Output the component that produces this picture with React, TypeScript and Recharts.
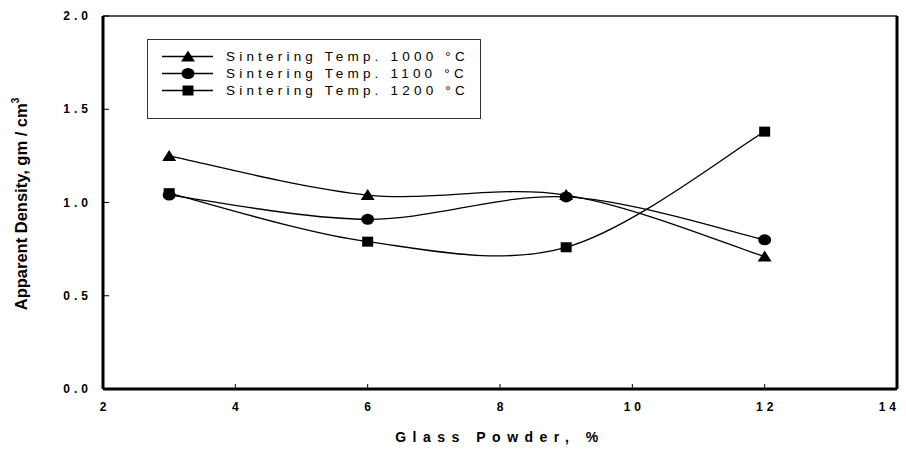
import { Legend, Line, LineChart, ReferenceLine, XAxis, YAxis } from "recharts";

const glassPowder = [3, 6, 9, 12];
const temp1000 = [1.25, 1.04, 1.04, 0.71];
const temp1100 = [1.04, 0.91, 1.03, 0.8];
const temp1200 = [1.05, 0.79, 0.76, 1.38];
const xTicks = [2, 4, 6, 8, 10, 12, 14];
const yTicks = [0, 0.5, 1, 1.5, 2];

const series = [
  { key: "t1000", name: "Sintering Temp. 1000 °C", shape: "triangle" },
  { key: "t1100", name: "Sintering Temp. 1100 °C", shape: "circle" },
  { key: "t1200", name: "Sintering Temp. 1200 °C", shape: "square" },
];

const data = glassPowder.map((x, i) => ({
  x,
  t1000: temp1000[i],
  t1100: temp1100[i],
  t1200: temp1200[i],
}));

const FONT = "Arial, 'Liberation Sans', sans-serif";

// Excel-style smoothing: uniform Catmull-Rom through the points.
const catmullRom = (ctx: any) => {
  let pts: number[][] = [];
  return {
    areaStart() {},
    areaEnd() {},
    lineStart() {
      pts = [];
    },
    point(x: number, y: number) {
      pts.push([+x, +y]);
    },
    lineEnd() {
      if (!pts.length) return;
      ctx.moveTo(pts[0][0], pts[0][1]);
      for (let i = 0; i < pts.length - 1; i++) {
        const p0 = pts[i - 1] || pts[i];
        const p1 = pts[i];
        const p2 = pts[i + 1];
        const p3 = pts[i + 2] || p2;
        ctx.bezierCurveTo(
          p1[0] + (p2[0] - p0[0]) / 6,
          p1[1] + (p2[1] - p0[1]) / 6,
          p2[0] - (p3[0] - p1[0]) / 6,
          p2[1] - (p3[1] - p1[1]) / 6,
          p2[0],
          p2[1],
        );
      }
    },
  };
};

function Marker({ shape, cx, cy }: { shape: string; cx: number; cy: number }) {
  if (shape === "triangle")
    return (
      <polygon
        points={`${cx},${cy - 6} ${cx - 7},${cy + 5} ${cx + 7},${cy + 5}`}
        fill="#000"
      />
    );
  if (shape === "circle") return <ellipse cx={cx} cy={cy} rx={6.5} ry={5.5} fill="#000" />;
  return <rect x={cx - 5.5} y={cy - 5} width={11} height={10} fill="#000" />;
}

const makeDot = (shape: string) => (props: any) => {
  const { cx, cy, index } = props;
  if (cx == null || cy == null) return <g key={index} />;
  return (
    <g key={index}>
      <Marker shape={shape} cx={cx} cy={cy} />
    </g>
  );
};

const XTick = (props: any) => {
  const { x, y, payload } = props;
  const last = payload.value === xTicks[xTicks.length - 1];
  return (
    <g>
      <line x1={x} y1={y} x2={x} y2={y - 5} stroke="#000" strokeWidth={1} />
      <text
        x={last ? x + 3 : x + 2}
        y={y + 22}
        textAnchor={last ? "end" : "middle"}
        fontSize={12}
        fontWeight="bold"
        letterSpacing={4}
        fontFamily={FONT}
        fill="#000"
      >
        {payload.value}
      </text>
    </g>
  );
};

const YTick = (props: any) => {
  const { x, y, payload } = props;
  return (
    <g>
      <line x1={x} y1={y} x2={x + 6} y2={y} stroke="#000" strokeWidth={1} />
      <text
        x={x - 11}
        y={y + 4}
        textAnchor="end"
        fontSize={12}
        fontWeight="bold"
        letterSpacing={4}
        fontFamily={FONT}
        fill="#000"
      >
        {Number(payload.value).toFixed(1)}
      </text>
    </g>
  );
};

function LegendBox() {
  return (
    <div
      style={{
        width: 334,
        height: 80,
        border: "1.5px solid #333",
        background: "#fff",
        paddingTop: 8,
        boxSizing: "border-box",
        fontFamily: FONT,
      }}
    >
      {series.map((s) => (
        <div key={s.key} style={{ display: "flex", alignItems: "center", height: 17 }}>
          <svg width={78} height={17} style={{ flex: "none" }}>
            <line x1={14} y1={8.5} x2={65} y2={8.5} stroke="#000" strokeWidth={1.5} />
            <Marker shape={s.shape} cx={40} cy={8.5} />
          </svg>
          <span style={{ fontSize: 13.5, letterSpacing: 4.2, color: "#000", whiteSpace: "nowrap" }}>
            {s.name}
          </span>
        </div>
      ))}
    </div>
  );
}

const YLabel = () => (
  <text
    transform="translate(27,204) rotate(-90)"
    textAnchor="middle"
    fontSize={16.5}
    fontWeight="bold"
    fontFamily={FONT}
    fill="#000"
  >
    Apparent Density, gm / cm
    <tspan fontSize={10} dy={-8}>
      3
    </tspan>
  </text>
);

export default function App() {
  return (
    <div style={{ position: "absolute", left: 0, top: 0, width: 906, height: 450, background: "#fff" }}>
      <LineChart
        width={906}
        height={450}
        data={data}
        margin={{ top: 16, right: 9, left: 0, bottom: 0 }}
      >
        <XAxis
          dataKey="x"
          type="number"
          domain={[2, 14]}
          ticks={xTicks}
          interval={0}
          height={61}
          tickSize={0}
          tickMargin={0}
          tickLine={false}
          axisLine={{ stroke: "#000", strokeWidth: 3 }}
          tick={<XTick />}
          label={{
            value: "Glass Powder, %",
            position: "insideBottom",
            offset: 8,
            fontSize: 14,
            fontWeight: "bold",
            letterSpacing: 6.5,
            fill: "#000",
            fontFamily: FONT,
          }}
        />
        <YAxis
          type="number"
          domain={[0, 2]}
          ticks={yTicks}
          interval={0}
          width={103}
          tickSize={0}
          tickMargin={0}
          tickLine={false}
          axisLine={{ stroke: "#000", strokeWidth: 3 }}
          tick={<YTick />}
          label={<YLabel />}
        />
        <ReferenceLine y={2} stroke="#555" strokeWidth={2} />
        <ReferenceLine x={14} stroke="#000" strokeWidth={3} />
        <Legend
          layout="vertical"
          align="center"
          verticalAlign="middle"
          content={<LegendBox />}
          wrapperStyle={{ left: 147, top: 39, width: 334 }}
        />
        {series.map((s) => (
          <Line
            key={s.key}
            dataKey={s.key}
            name={s.name}
            type={catmullRom as any}
            stroke="#000"
            strokeWidth={1.3}
            dot={makeDot(s.shape)}
            activeDot={false}
            isAnimationActive={false}
          />
        ))}
      </LineChart>
    </div>
  );
}
